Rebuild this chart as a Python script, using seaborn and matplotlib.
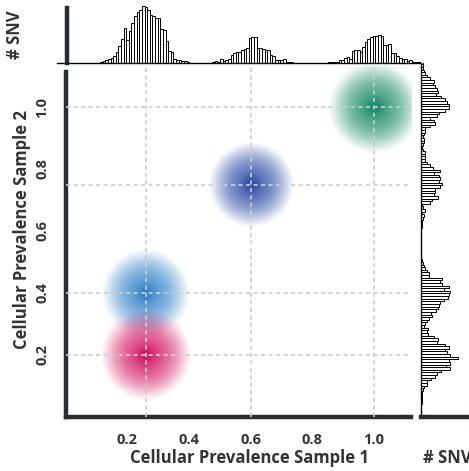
import numpy as np
import pandas as pd
import matplotlib
matplotlib.use("Agg")
import matplotlib.pyplot as plt
import matplotlib.colors as mcolors
import seaborn as sns

# ---------------- data ----------------
cluster_x = [0.26, 0.26, 0.60, 1.00]
cluster_y = [0.40, 0.20, 0.75, 1.00]
cluster_colors = ["#2f80c8", "#d2145e", "#2b4ba6", "#178a66"]
cluster_radius = [0.145, 0.148, 0.140, 0.150]

x_ticks = [0.2, 0.4, 0.6, 0.8, 1.0]
y_ticks = [0.2, 0.4, 0.6, 0.8, 1.0]
tick_labels = ["0.2", "0.4", "0.6", "0.8", "1.0"]

bin_width = 0.0085

# top marginal histogram (Sample 1), three segments: start value + counts
top_starts = [0.1115, 0.475, 0.851]
top_seg1 = [1, 2, 3, 4, 5, 7, 11, 17, 24, 35, 23, 32, 40, 47, 51, 53, 57, 56, 53, 48,
            47, 45, 45, 34, 33, 22, 12, 11, 4, 3, 3, 2, 2, 1]
top_seg2 = [1, 2, 1, 4, 2, 3, 4, 8, 10, 11, 11, 13, 14, 15, 25, 26, 26, 15, 15, 14,
            13, 13, 8, 7, 3, 3, 3, 4, 1, 1, 1]
top_seg3 = [1, 1, 1, 1, 3, 3, 5, 6, 4, 12, 13, 13, 11, 16, 21, 24, 26, 27, 27, 28,
            27, 18, 18, 19, 10, 10, 7, 5, 4, 4, 2, 3, 1, 1, 1]

# right marginal histogram (Sample 2), two segments: start value + counts
right_starts = [0.041, 0.611]
right_seg1 = [1, 1, 1, 1, 1, 2, 3, 6, 6, 10, 14, 16, 20, 29, 25, 29, 28, 37, 29, 26,
              24, 28, 24, 16, 17, 13, 7, 6, 7, 3, 4, 6, 8, 11, 10, 15, 17, 18, 19, 23,
              27, 28, 29, 23, 28, 21, 19, 21, 8, 8, 6, 4, 3, 2, 1]
right_seg2 = [1, 1, 1, 2, 3, 1, 4, 2, 1, 9, 11, 17, 13, 14, 14, 19, 21, 18, 19,
              18, 13, 19, 12, 9, 6, 4, 4, 4, 4, 2, 1, 2, 3, 3, 2, 3, 4, 4, 9, 14,
              13, 9, 16, 18, 24, 28, 28, 26, 24, 20, 15, 17, 16, 14, 12, 13, 9, 6, 4,
              3, 2, 2, 2, 1]

# ---------------- style ----------------
sns.set_style("white")
plt.rcParams["font.family"] = ["Open Sans", "DejaVu Sans"]
dark = "#2a2e30"
txt = "#333333"

W, H = 469, 471
fig = plt.figure(figsize=(W / 100, H / 100), dpi=100)


def rect(x0, y0, x1, y1):
    return [x0 / W, 1 - y1 / H, (x1 - x0) / W, (y1 - y0) / H]


ax = fig.add_axes(rect(66, 65, 411, 416.8))
ax_top = fig.add_axes(rect(57, 6, 421, 63.3))
ax_right = fig.add_axes(rect(420.7, 63, 469, 416.8))

# ---------------- main panel: blobs ----------------
n = 241
for cx, cy, col, R in zip(cluster_x, cluster_y, cluster_colors, cluster_radius):
    g = np.linspace(-R, R, n)
    gx, gy = np.meshgrid(g, g)
    r = np.sqrt(gx ** 2 + gy ** 2) / R
    a = np.clip(1 - r ** 2.3, 0, 1) ** 1.3
    a = 0.80 * a + 0.20 * np.exp(-(r / 0.2) ** 2)
    rgba = np.zeros((n, n, 4))
    rgba[..., :3] = mcolors.to_rgb(col)
    rgba[..., 3] = np.clip(a, 0, 1)
    ax.imshow(rgba, extent=[cx - R, cx + R, cy - R, cy + R], origin="lower",
              interpolation="bilinear", zorder=1, aspect="auto")

for gxv in sorted(set(cluster_x)):
    ax.axvline(gxv, color="#cdcdcd", lw=1.2, ls=(0, (2.5, 2)), zorder=3)
for gyv in sorted(set(cluster_y)):
    ax.axhline(gyv, color="#cdcdcd", lw=1.2, ls=(0, (2.5, 2)), zorder=3)

ax.set_xlim(0.001, 1.12)
ax.set_ylim(0, 1.136)
ax.set_xticks(x_ticks)
ax.set_xticklabels(tick_labels, fontsize=10.5, fontweight="bold", color=txt)
ax.set_yticks(y_ticks)
ax.set_yticklabels(tick_labels, fontsize=10.5, fontweight="bold", color=txt,
                   rotation=90, va="center")
ax.tick_params(axis="both", length=7, width=1.3, color="#9a9a9a", pad=5)
for s in ["top", "right"]:
    ax.spines[s].set_visible(False)
for s in ["left", "bottom"]:
    ax.spines[s].set_linewidth(3.2)
    ax.spines[s].set_color(dark)
ax.spines["left"].set_bounds(0, 1.115)
ax.set_xlabel("Cellular Prevalence Sample 1", fontsize=12, fontweight="bold",
              color=txt)
ax.set_ylabel("Cellular Prevalence Sample 2", fontsize=12, fontweight="bold",
              color=txt)
ax.xaxis.set_label_coords((249.5 - 66) / 345, -(458 - 416.8) / 351.8)
ax.yaxis.set_label_coords(-(66 - 22) / 345, (416.8 - 230) / 351.8)
ax.xaxis.label.set_va("center")
ax.yaxis.label.set_va("center")

# ---------------- top marginal ----------------
for st, cnt in zip(top_starts, [top_seg1, top_seg2, top_seg3]):
    centers = st + bin_width * (np.arange(len(cnt)) + 0.5)
    df = pd.DataFrame({"v": centers, "w": cnt})
    sns.histplot(data=df, x="v", weights="w", binwidth=bin_width,
                 binrange=(st, st + bin_width * len(cnt)), ax=ax_top,
                 color="white", edgecolor="black", linewidth=0.7, alpha=1)
ax_top.set_xlim(-0.028, 1.152)
ax_top.set_ylim(0, 57.3)
ax_top.set_xticks([])
ax_top.set_yticks([20, 40])
ax_top.set_yticklabels([])
ax_top.set_ylabel("")
ax_top.set_xlabel("")
ax_top.tick_params(axis="y", length=8, width=1.2, color=dark, pad=2)
for s in ["top", "right"]:
    ax_top.spines[s].set_visible(False)
ax_top.spines["left"].set_position(("data", 0.006))
ax_top.spines["left"].set_linewidth(3.2)
ax_top.spines["left"].set_color(dark)
ax_top.spines["left"].set_bounds(0, 55)
ax_top.spines["bottom"].set_linewidth(1.0)
ax_top.spines["bottom"].set_color("black")
ax_top.patch.set_alpha(0)

# ---------------- right marginal ----------------
for st, cnt in zip(right_starts, [right_seg1, right_seg2]):
    centers = st + bin_width * (np.arange(len(cnt)) + 0.5)
    df = pd.DataFrame({"v": centers, "w": cnt})
    sns.histplot(data=df, y="v", weights="w", binwidth=bin_width,
                 binrange=(st, st + bin_width * len(cnt)), ax=ax_right,
                 color="white", edgecolor="black", linewidth=0.7, alpha=1)
ax_right.set_ylim(0, 1.142)
ax_right.set_xlim(0, 48.3)
ax_right.set_yticks([])
ax_right.set_xticks([0, 20, 40])
ax_right.set_xticklabels([])
ax_right.set_xlabel("")
ax_right.set_ylabel("")
ax_right.tick_params(axis="x", length=8, width=1.2, color="#9a9a9a", pad=2)
for s in ["top", "right"]:
    ax_right.spines[s].set_visible(False)
ax_right.spines["bottom"].set_linewidth(3.2)
ax_right.spines["bottom"].set_color(dark)
ax_right.spines["left"].set_linewidth(1.0)
ax_right.spines["left"].set_color("black")
ax_right.patch.set_alpha(0)

# ---------------- marginal labels ----------------
fig.text(15 / W, 1 - 35 / H, "# SNV", rotation=90, ha="center", va="center",
         fontsize=12, fontweight="bold", color=txt)
fig.text(423 / W, 1 - 458 / H, "# SNV", ha="left", va="center",
         fontsize=12, fontweight="bold", color=txt)

fig.savefig("out.png", dpi=100)
